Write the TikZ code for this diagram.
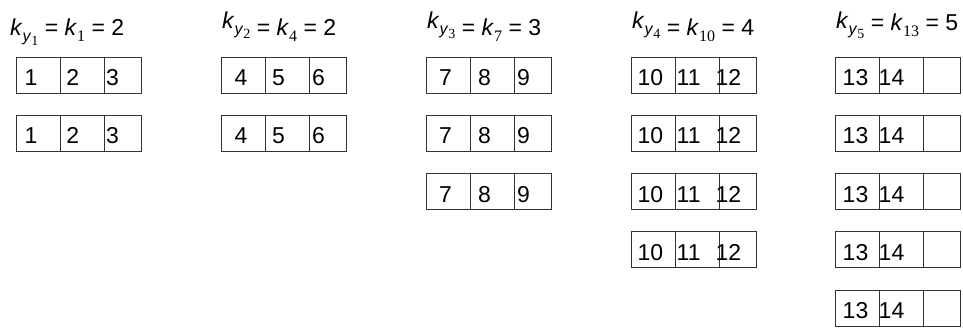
\documentclass[tikz,border=0pt]{standalone}
\usepackage{fontspec}
\setmainfont{Liberation Sans}
\newfontfamily\serifnum{Liberation Serif}
\usetikzlibrary{positioning, calc}

% k with a lowered index
\newcommand{\kidx}[1]{\textit{k}\raisebox{-0.3em}{\fontsize{16}{16}\selectfont #1}}

\begin{document}
\begin{tikzpicture}[x=1pt, y=-1pt,
  celda/.style={draw=black!80, line width=0.8pt, minimum height=36pt,
                inner sep=0pt, outer sep=0pt, anchor=north west},
  num/.style={font=\fontsize{23}{27}\selectfont, inner sep=0pt, anchor=base west},
  cab/.style={font=\fontsize{23}{27}\selectfont, inner sep=0pt, anchor=base west}]
\useasboundingbox (0,0) rectangle (963,330);
% headers
\foreach \x/\yb/\rz/\i/\j/\v in {10/35/0/1/1/2, 222/35/7/2/4/2, 427/35/7/3/7/3,
                                  632/35/7/4/10/4, 836/30/2/5/13/5}
  \node[cab] (cab-\i) at (\x,\yb)
    {\raisebox{\rz pt}{\kidx{\textit{y}\raisebox{-0.25em}{\fontsize{14}{14}\selectfont\serifnum\i}}}
     = \kidx{\serifnum\j} = \v};
% boxes
\foreach \L/\n/\a/\b/\cc/\oa/\ob/\oc [count=\i] in {16/2/1/2/3/8.5/6.2/2, 221/2/4/5/6/13.5/7/3,
    426/3/7/8/9/13/8/3, 631/4/10/11/12/6.5/1.5/-3.5, 835/5/13/14//7.5/-0.5/0}
  \foreach \r in {1,...,\n} {
    \pgfmathsetmacro\t{57+58.25*(\r-1)}
    \node[celda, minimum width=44pt] (c\i-\r-a) at (\L,\t) {};
    \node[celda, minimum width=44pt, right=0pt of c\i-\r-a] (c\i-\r-b) {};
    \node[celda, minimum width=37pt, right=0pt of c\i-\r-b] (c\i-\r-c) {};
    \node[num] (n\i-\r-a) at ($(c\i-\r-a.north west)+(\oa,28.5)$) {\a};
    \node[num] (n\i-\r-b) at ($(c\i-\r-b.north west)+(\ob,28.5)$) {\b};
    \node[num] (n\i-\r-c) at ($(c\i-\r-c.north west)+(\oc,28.5)$) {\cc};
  }
\end{tikzpicture}
\end{document}
